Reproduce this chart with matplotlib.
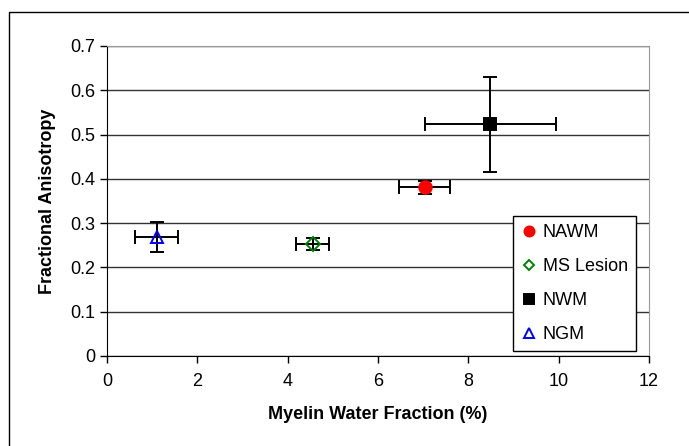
import matplotlib
matplotlib.use("Agg")
import matplotlib.pyplot as plt
from matplotlib.patches import Rectangle

plt.rcParams["font.family"] = ["Liberation Sans", "DejaVu Sans"]

labels = ["NAWM", "MS Lesion", "NWM", "NGM"]
mwf = [7.03, 4.55, 8.49, 1.10]
mwf_err = [0.57, 0.36, 1.46, 0.48]
fa = [0.381, 0.253, 0.523, 0.268]
fa_err = [0.015, 0.013, 0.107, 0.034]

markers = ["o", "D", "s", "^"]
face = ["red", "none", "black", "none"]
edge = ["red", "green", "black", "blue"]
msizes = [9, 7, 9, 9]

fig = plt.figure(figsize=(6.89, 4.46), dpi=100)
ax = fig.add_axes([0.1553, 0.2018, 0.7867, 0.6951])

# outer chart frame
fig.patches.append(Rectangle((9 / 689, -0.2), 1.2, 1.2 - 12 / 446,
                             transform=fig.transFigure, fill=False,
                             edgecolor="black", linewidth=1.0))

for i in range(len(labels)):
    ax.errorbar(mwf[i], fa[i], xerr=mwf_err[i], yerr=fa_err[i], fmt="none",
                ecolor="black", elinewidth=1.4, capsize=5, capthick=1.4, zorder=3)
    ax.plot(mwf[i], fa[i], linestyle="none", marker=markers[i], markersize=msizes[i],
            markerfacecolor=face[i], markeredgecolor=edge[i], markeredgewidth=1.4,
            label=labels[i], zorder=4)

ax.set_xlim(0, 12)
ax.set_ylim(0, 0.7)
ax.set_xticks(range(0, 13, 2))
ax.set_yticks([0, 0.1, 0.2, 0.3, 0.4, 0.5, 0.6, 0.7])
ax.set_yticklabels(["0", "0.1", "0.2", "0.3", "0.4", "0.5", "0.6", "0.7"])
ax.tick_params(direction="out", length=5, width=1, labelsize=13, colors="black")
ax.tick_params(axis="x", pad=7)
ax.yaxis.grid(True, color="#333333", linewidth=1)
ax.set_axisbelow(True)

ax.spines["left"].set_color("black")
ax.spines["bottom"].set_color("black")
ax.spines["top"].set_color("#999999")
ax.spines["right"].set_color("#999999")

ax.set_xlabel("Myelin Water Fraction (%)", fontsize=13, fontweight="bold", labelpad=12)
ax.set_ylabel("Fractional Anisotropy", fontsize=13, fontweight="bold", labelpad=10)

leg = ax.legend(loc="lower right", bbox_to_anchor=(0.993, -0.013), fontsize=13,
                frameon=True, fancybox=False, edgecolor="black", framealpha=1,
                handletextpad=0.3, labelspacing=0.93, handlelength=0.9,
                borderpad=0.45, markerscale=0.8, borderaxespad=0.5)
leg.get_frame().set_linewidth(1.0)

fig.savefig("out.png", dpi=100)
